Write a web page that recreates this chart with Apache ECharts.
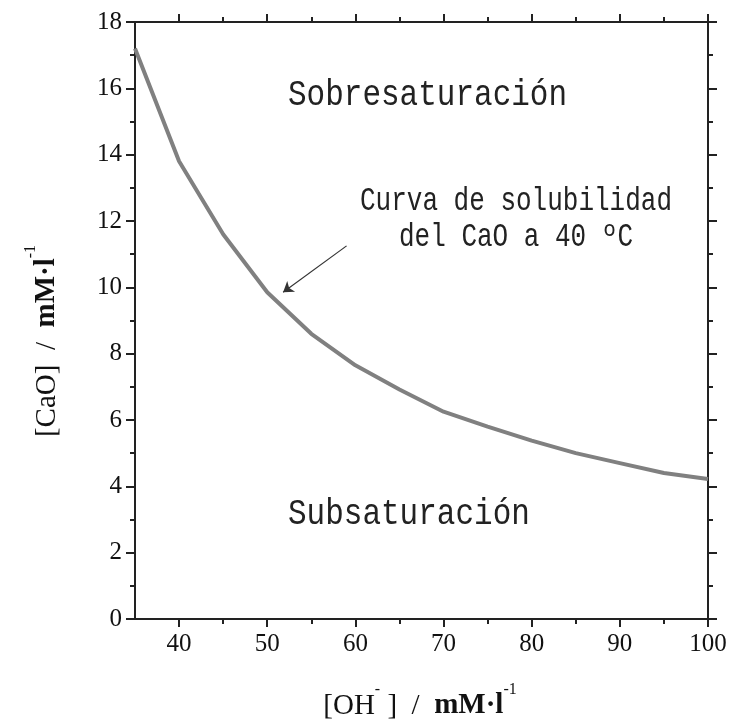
<!DOCTYPE html>
<html>
<head>
<meta charset="utf-8">
<script src="https://cdn.jsdelivr.net/npm/echarts@6/dist/echarts.min.js"></script>
<style>
  html, body { margin: 0; padding: 0; background: #fff; }
  #chart { width: 737px; height: 721px; }
</style>
</head>
<body>
<div id="chart"></div>
<script>
// [OH-] concentration (mM/l) and CaO solubility (mM/l) at 40 ºC
var ohValues = [35, 40, 45, 50, 55, 60, 65, 70, 75, 80, 85, 90, 95, 100];
var caoValues = [17.2, 13.8, 11.6, 9.85, 8.6, 7.65, 6.92, 6.25, 5.8, 5.38, 5.0, 4.7, 4.4, 4.22];
var xMajorTicks = [40, 50, 60, 70, 80, 90, 100];
var xMinorTicks = [45, 55, 65, 75, 85, 95];
// arrow pointing at the curve (data coords)
var arrowFrom = [59.0, 11.25];
var arrowTo = [51.8, 9.85];

var chartDom = document.getElementById('chart');
var myChart = echarts.init(chartDom);
var option;

var serif = 'Liberation Serif';
var mono = 'Liberation Mono';
var axisColor = '#222';

var curveData = [];
ohValues.forEach(function (v, i) {
    curveData.push([v, caoValues[i]]);
});

function xAxisBase(pos, ticks, len, labels) {
    return {
        type: 'value',
        position: pos,
        min: 35,
        max: 100,
        splitLine: {show: false},
        axisLine: {show: true, onZero: false, lineStyle: {color: axisColor, width: 2}},
        axisTick: {show: true, inside: false, length: len, customValues: ticks,
            lineStyle: {color: axisColor, width: 2}},
        axisLabel: labels ? {
            show: true, customValues: ticks, margin: 13,
            color: '#111', fontFamily: serif, fontSize: 25
        } : {show: false}
    };
}

function yAxisBase(pos, labels) {
    return {
        type: 'value',
        position: pos,
        min: 0,
        max: 18,
        interval: 2,
        splitLine: {show: false},
        axisLine: {show: true, onZero: false, lineStyle: {color: axisColor, width: 2}},
        axisTick: {show: true, inside: false, length: 9, lineStyle: {color: axisColor, width: 2}},
        minorTick: {show: true, splitNumber: 2, length: 5, lineStyle: {color: axisColor, width: 2}},
        minorSplitLine: {show: false},
        axisLabel: labels ? {
            show: true, margin: 13, color: '#111', fontFamily: serif, fontSize: 25
        } : {show: false}
    };
}

// axis title text styles: superscripts sit above the cap line
var titleRich = {
    n: {fontFamily: serif, fontSize: 29, fill: '#111', verticalAlign: 'bottom', padding: [10, 0, 0, 0]},
    b: {fontFamily: serif, fontSize: 29, fontWeight: 'bold', fill: '#111', verticalAlign: 'bottom', padding: [10, 0, 0, 0]},
    s: {fontFamily: serif, fontSize: 16, fill: '#111', verticalAlign: 'top', lineHeight: 16}
};

function monoText(txt, x, y, size, sy, align) {
    return {
        type: 'text', x: x, y: y, scaleY: sy,
        style: {text: txt, fontFamily: mono, fontSize: size, fill: '#222',
            align: align, verticalAlign: 'middle'}
    };
}

option = {
    backgroundColor: '#fff',
    animation: false,
    grid: {left: 135, right: 29, top: 22, bottom: 102, containLabel: false},
    xAxis: [
        xAxisBase('bottom', xMajorTicks, 8, true),
        xAxisBase('bottom', xMinorTicks, 5, false),
        xAxisBase('top', xMajorTicks, 8, false),
        xAxisBase('top', xMinorTicks, 5, false)
    ],
    yAxis: [
        yAxisBase('left', true),
        yAxisBase('right', false)
    ],
    graphic: [
        monoText('Sobresaturación', 288, 95, 31, 1.22, 'left'),
        monoText('Subsaturación', 288, 514, 31, 1.22, 'left'),
        monoText('Curva de solubilidad', 516, 201, 26, 1.26, 'center'),
        monoText('del CaO a 40 ºC', 516, 237, 26, 1.26, 'center'),
        {
            type: 'text', x: 420, y: 701,
            style: {
                text: '{n|[OH}{s|-}{n| ]  /  }{b|mM·l}{s|-1}',
                align: 'center', verticalAlign: 'middle',
                fill: '#111', rich: titleRich
            }
        },
        {
            type: 'text', x: 42, y: 341, rotation: Math.PI / 2,
            style: {
                text: '{n|[CaO]  /  }{b|mM·l}{s|-1}',
                align: 'center', verticalAlign: 'middle',
                fill: '#111', rich: titleRich
            }
        }
    ],
    series: [
        {
            name: 'Curva de solubilidad',
            type: 'line',
            xAxisIndex: 0,
            yAxisIndex: 0,
            symbol: 'none',
            smooth: false,
            lineStyle: {color: '#808080', width: 4},
            data: curveData,
            markLine: {
                silent: true,
                symbol: ['none', 'arrow'],
                symbolSize: 10,
                label: {show: false},
                lineStyle: {color: '#333', width: 1.2, type: 'solid'},
                data: [[{coord: arrowFrom}, {coord: arrowTo}]]
            }
        }
    ]
};

option && myChart.setOption(option);
</script>
</body>
</html>
